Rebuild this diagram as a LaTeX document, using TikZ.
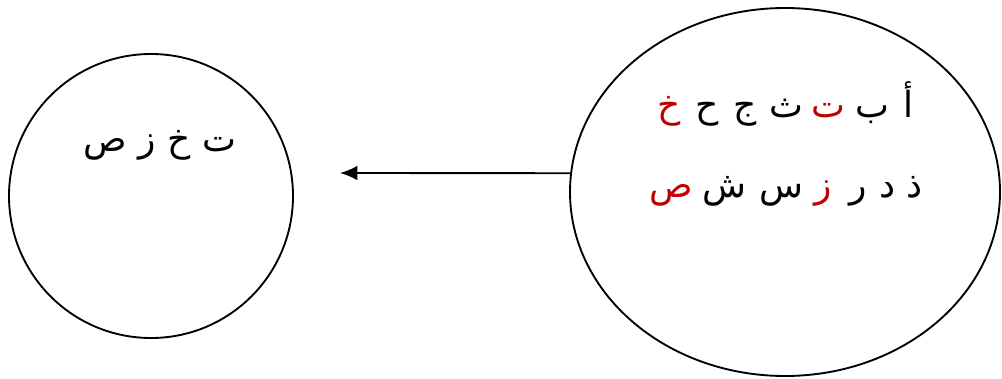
\documentclass[tikz,border=0pt]{standalone}
\usepackage{fontspec}
\newfontfamily\arabicfont[Script=Arabic]{DejaVu Sans}
\TeXXeTstate=1
\usetikzlibrary{shapes.geometric,arrows.meta}
\definecolor{letterred}{RGB}{192,0,0}
\tikzset{every picture/.style={line width=1.4pt}}
\tikzset{
  letters/.style={inner sep=0.75pt, font=\arabicfont\fontsize{27}{31}\selectfont},
  letter/.style={letters, anchor=base}
}

\begin{document}
\begin{tikzpicture}[x=0.75pt,y=0.75pt,yscale=-1,xscale=1]
    \useasboundingbox (0,0) rectangle (1002,378);
    %Circle
    \node [draw, circle, minimum size=213pt, inner sep=0pt] (sub) at (151,196) {};
    %Ellipse
    \node [draw, ellipse, minimum width=322.5pt, minimum height=276pt, inner sep=0pt] (full) at (785,192) {};

    % Text Node
    \node [letters] (subtxt) at (160,145) {\beginR ت خ ز ص\endR};
    % first row of letters, one node each
    \foreach \ch/\x/\c [count=\i] in {أ/908/black, ب/872/black, ت/828/letterred, ث/786/black, ج/745/black, ح/707/black, خ/669/letterred}
        \node [letter, text=\c] (ra\i) at (\x,117) {\ch};
    % second row
    \foreach \ch/\x/\c [count=\i] in {ذ/915/black, د/888/black, ر/858/black, ز/823/letterred, س/781/black, ش/724/black, ص/671/letterred}
        \node [letter, text=\c] (rb\i) at (\x,197) {\ch};

    %Straight Lines
    \coordinate (tip) at (340,173);
    \draw [-{Latex[length=13pt,width=11pt]}] (full.175) -- (tip);
\end{tikzpicture}
\end{document}
